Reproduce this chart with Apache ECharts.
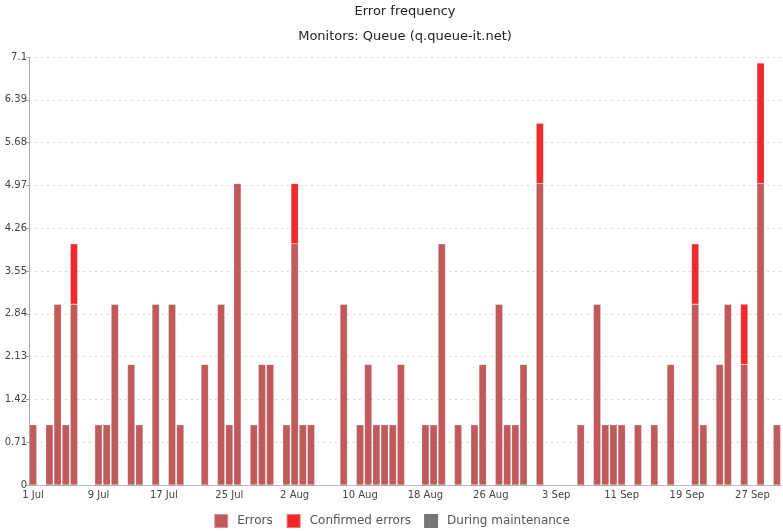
<!DOCTYPE html>
<html>
<head>
<meta charset="utf-8">
<script src="https://cdn.jsdelivr.net/npm/echarts@6/dist/echarts.min.js"></script>
<style>html,body{margin:0;padding:0;background:#fff}#c{width:783px;height:531px}</style>
</head>
<body>
<div id="c"></div>
<script>
// Days 1 Jul .. 30 Sep
const monthNames = ['Jul', 'Aug', 'Sep'];
const monthDays = [31, 31, 30];
const categories = [];
monthNames.forEach((m, k) => { for (let d = 1; d <= monthDays[k]; d++) categories.push(d + ' ' + m); });

const errors = [
  1,0,1,3,1,3,0,0,1,1, 3,0,2,1,0,3,0,3,1,0,
  0,2,0,3,1,5,0,1,2,2, 0,1,4,1,1,0,0,0,3,0,
  1,2,1,1,1,2,0,0,1,1, 4,0,1,0,1,2,0,3,1,1,
  2,0,5,0,0,0,0,1,0,3, 1,1,1,0,1,0,1,0,2,0,
  0,3,1,0,2,3,0,2,0,5, 0,1
];
const confirmed = [
  0,0,0,0,0,1,0,0,0,0, 0,0,0,0,0,0,0,0,0,0,
  0,0,0,0,0,0,0,0,0,0, 0,0,1,0,0,0,0,0,0,0,
  0,0,0,0,0,0,0,0,0,0, 0,0,0,0,0,0,0,0,0,0,
  0,0,1,0,0,0,0,0,0,0, 0,0,0,0,0,0,0,0,0,0,
  0,1,0,0,0,0,0,1,0,2, 0,0
];
const maintenance = categories.map(() => 0);
const seriesNames = ['Errors', 'Confirmed errors', 'During maintenance'];

const font = 'DejaVu Sans, Verdana, sans-serif';
const chart = echarts.init(document.getElementById('c'));
chart.setOption({
  animation: false,
  textStyle: { fontFamily: font },
  title: {
    text: 'Error frequency',
    subtext: 'Monitors: Queue (q.queue-it.net)',
    left: 400, textAlign: 'center', top: 0, itemGap: 12,
    textStyle: { fontSize: 13, fontWeight: 'normal', color: '#222', fontFamily: font },
    subtextStyle: { fontSize: 13, color: '#222', fontFamily: font }
  },
  legend: {
    top: 508, left: 'center', itemWidth: 14, itemHeight: 14, itemGap: 13,
    icon: 'rect',
    textStyle: { fontSize: 12, color: '#555', fontFamily: font, padding: [0, 0, 0, 4] },
    data: seriesNames
  },
  grid: { left: 29, right: 2, top: 57, bottom: 46, containLabel: false },
  xAxis: {
    type: 'category', data: categories,
    axisLine: { lineStyle: { color: '#aaa' } },
    axisTick: { alignWithLabel: true, interval: 7, length: 4, lineStyle: { color: '#aaa' } },
    axisLabel: { interval: 7, fontSize: 10, color: '#444', margin: 5 }
  },
  yAxis: {
    type: 'value', min: 0, max: 7.1, interval: 0.71,
    axisLine: { show: true, lineStyle: { color: '#aaa' } },
    axisTick: { show: true, length: 3, lineStyle: { color: '#aaa' } },
    axisLabel: { fontSize: 10, color: '#444', margin: 2, formatter: v => String(+v.toFixed(2)) },
    splitLine: { lineStyle: { color: '#d8d8d8', type: [2, 4] } }
  },
  series: [
    { name: seriesNames[0], type: 'bar', stack: 's', data: errors, barCategoryGap: '10%',
      itemStyle: { color: '#c05a5b', borderColor: 'rgba(255,255,255,0.35)', borderWidth: 0.5 } },
    { name: seriesNames[1], type: 'bar', stack: 's', data: confirmed,
      itemStyle: { color: '#ee2a2c', borderColor: 'rgba(255,255,255,0.35)', borderWidth: 0.5 } },
    { name: seriesNames[2], type: 'bar', stack: 's', data: maintenance,
      itemStyle: { color: '#777777' } }
  ]
});
</script>
</body>
</html>
